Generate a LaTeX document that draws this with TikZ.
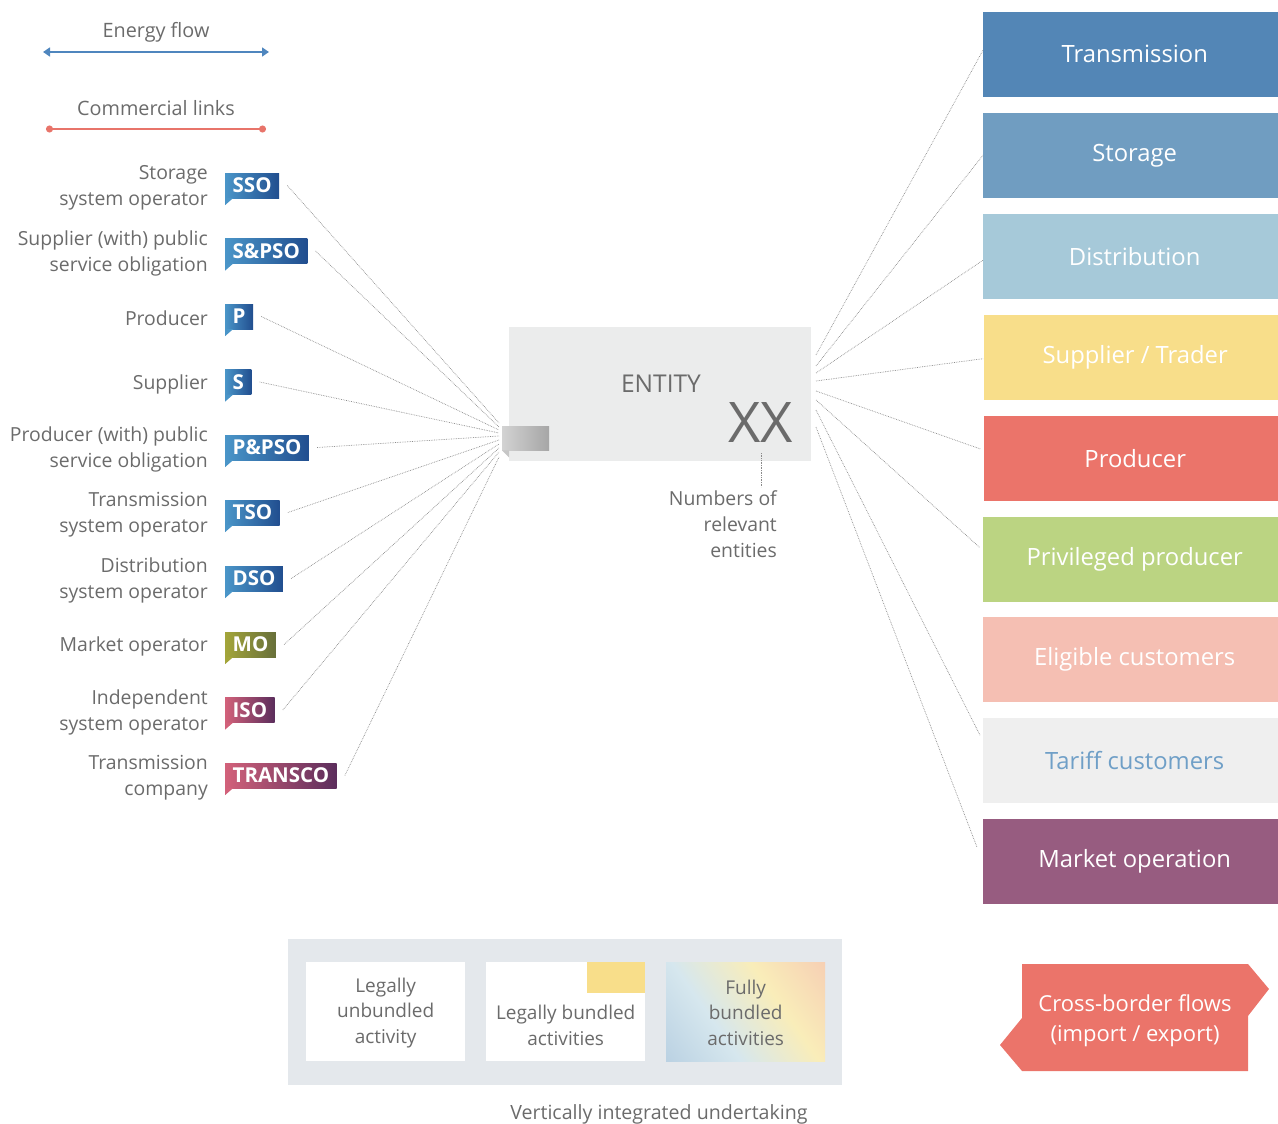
\documentclass[tikz,border=0pt]{standalone}
\usepackage{fontspec}
\setmainfont{Open Sans}
\usetikzlibrary{arrows.meta}
\definecolor{txt}{HTML}{6B6B6B}
\definecolor{eblue}{HTML}{4F86BE}
\definecolor{cred}{HTML}{E8746A}
\definecolor{cTr}{HTML}{5386B6}
\definecolor{cSt}{HTML}{709DC1}
\definecolor{cDi}{HTML}{A6C9D9}
\definecolor{cSu}{HTML}{F8DE8A}
\definecolor{cPr}{HTML}{EB746A}
\definecolor{cPp}{HTML}{BBD482}
\definecolor{cEl}{HTML}{F5BFB3}
\definecolor{cTa}{HTML}{EFEFEF}
\definecolor{cTaT}{HTML}{6F9FC7}
\definecolor{cMa}{HTML}{975C80}
\definecolor{entgray}{HTML}{EBECEC}
\definecolor{bgray}{HTML}{E4E8EC}
\definecolor{blA}{HTML}{4A95C8}
\definecolor{blB}{HTML}{214E8F}
\definecolor{grA}{HTML}{A3A53A}
\definecolor{grB}{HTML}{676F3A}
\definecolor{rdA}{HTML}{D2617A}
\definecolor{rdB}{HTML}{5B2D5C}
\definecolor{fanc}{HTML}{8A8A8A}
\definecolor{gs1}{HTML}{A8C3DB}
\definecolor{gs2}{HTML}{D6E7EE}
\definecolor{gs3}{HTML}{F9EDB9}
\definecolor{gs4}{HTML}{F5BCB0}
\pgfdeclarehorizontalshading{fullbund}{100bp}{color(0bp)=(gs1); color(38bp)=(gs2); color(62bp)=(gs3); color(100bp)=(gs4)}
\begin{document}
\begin{tikzpicture}[x=1pt,y=-1pt,
  lbl/.style={font=\fontsize{19.4}{26}\selectfont, text=txt, align=right, anchor=east, inner sep=0pt},
  ctext/.style={font=\fontsize{19.8}{26}\selectfont, text=txt, align=center, inner sep=0pt},
  btext/.style={font=\fontsize{19}{25.5}\selectfont, text=txt, align=center, inner sep=0pt},
  badge/.style={font=\bfseries\fontsize{20.5}{20}\selectfont, text=white, anchor=west,
    minimum height=25pt, inner xsep=7.5pt, inner ysep=0pt, text height=14.8pt, text depth=0pt},
  bblue/.style={badge, left color=blA, right color=blB},
  bgreen/.style={badge, left color=grA, right color=grB},
  bred/.style={badge, left color=rdA, right color=rdB},
  rbox/.style={minimum width=295pt, minimum height=85pt, anchor=north west, inner sep=0pt},
  rtext/.style={font=\fontsize{23.8}{24}\selectfont, text=white, inner sep=0pt},
  fan/.style={draw=fanc, densely dotted, line width=0.7pt},
  wbox/.style={fill=white, minimum width=159pt, minimum height=99pt, anchor=north west, inner sep=0pt}
]
\useasboundingbox (0,0) rectangle (1278,1124);

% legend
\node[ctext] (ef) at (156,32) {Energy flow};
\coordinate (ef1) at (43,52);
\coordinate (ef2) at (269,52);
\draw[line width=1.5pt, eblue, {Triangle[length=7pt,width=9pt]}-{Triangle[length=7pt,width=9pt]}] (ef1) -- (ef2);
\node[ctext] (cl) at (156,108) {Commercial links};
\coordinate (cl1) at (46,129);
\coordinate (cl2) at (266,129);
\draw[line width=1.5pt, cred, {Circle[length=7pt]}-{Circle[length=7pt]}] (cl1) -- (cl2);

% badges
\node[bblue] (sso) at (225,185.5) {SSO};
\node[bblue] (spso) at (225,251) {S\&PSO};
\node[bblue] (p) at (225,316.5) {P};
\node[bblue] (s) at (225,382) {S};
\node[bblue] (ppso) at (225,447.5) {P\&PSO};
\node[bblue] (tso) at (225,512.5) {TSO};
\node[bblue] (dso) at (225,578.5) {DSO};
\node[bgreen] (mo) at (225,644.5) {MO};
\node[bred] (iso) at (225,710) {ISO};
\node[bred] (transco) at (225,775.5) {TRANSCO};
\foreach \b/\c in {sso/blA,spso/blA,p/blA,s/blA,ppso/blA,tso/blA,dso/blA,mo/grA,iso/rdA,transco/rdA}{
  \fill[\c] (\b.south west) -- ++(0,7) -- ++(8,-7) -- cycle;
}

% labels
\node[lbl] at (208,187.5) {Storage\\system operator};
\node[lbl] at (208,253) {Supplier (with) public\\service obligation};
\node[lbl] at (208,318) {Producer};
\node[lbl] at (208,384) {Supplier};
\node[lbl] at (208,449.5) {Producer (with) public\\service obligation};
\node[lbl] at (208,514.5) {Transmission\\system operator};
\node[lbl] at (208,580.5) {Distribution\\system operator};
\node[lbl] at (208,646) {Market operator};
\node[lbl] at (208,712) {Independent\\system operator};
\node[lbl] at (208,777.5) {Transmission\\company};

% entity
\node[fill=entgray, minimum width=302pt, minimum height=134pt, anchor=north west, inner sep=0pt] (ent) at (509,327) {};
\node[font=\fontsize{24.5}{24}\selectfont, text=txt, inner sep=0pt] (entt) at (661,384) {ENTITY};
\node[font=\fontsize{56}{56}\selectfont, text=txt, inner sep=0pt] (xx) at (761,423) {XX};
\node[draw=none, left color=gray!35, right color=gray!70, minimum width=47pt, minimum height=24pt, anchor=north west, inner sep=0pt] (tab) at (502,426) {};
\fill[gray!45] (tab.south west) -- ++(7,7) -- ++(0,-7) -- cycle;
\coordinate (xd1) at (761,453);
\coordinate (xd2) at (761,487);
\draw[fan] (xd1) -- (xd2);
\node[lbl, anchor=north east] (num) at (777,490) {Numbers of\\relevant\\entities};

% left fan
\foreach \b/\yy in {sso/423,spso/427,p/430,s/433,ppso/436,tso/440,dso/444,mo/448,iso/452,transco/457}{
  \coordinate (L\b) at (499,\yy);
  \draw[fan] ([xshift=8pt]\b.east) -- (L\b);
}

% right boxes
\node[rbox, fill=cTr] (tr) at (983,12) {};
\node[rbox, fill=cSt] (st) at (983,113) {};
\node[rbox, fill=cDi] (di) at (983,214) {};
\node[rbox, fill=cSu, minimum width=294pt] (su) at (984,315) {};
\node[rbox, fill=cPr, minimum width=294pt] (pr) at (984,416) {};
\node[rbox, fill=cPp] (pp) at (983,517) {};
\node[rbox, fill=cEl] (el) at (983,617) {};
\node[rbox, fill=cTa] (ta) at (983,718) {};
\node[rbox, fill=cMa] (ma) at (983,819) {};
\node[rtext] (trt) at ([xshift=4pt, yshift=1pt]tr.center) {Transmission};
\node[rtext] (stt) at ([xshift=4pt]st.center) {Storage};
\node[rtext] (dit) at ([xshift=4pt]di.center) {Distribution};
\node[rtext] (sut) at ([xshift=4pt]su.center) {Supplier / Trader};
\node[rtext] (prt) at ([xshift=4pt]pr.center) {Producer};
\node[rtext] (ppt) at ([xshift=4pt]pp.center) {Privileged producer};
\node[rtext] (elt) at ([xshift=4pt]el.center) {Eligible customers};
\node[rtext, text=cTaT] (tat) at ([xshift=4pt]ta.center) {Tariff customers};
\node[rtext] (mat) at ([xshift=4pt]ma.center) {Market operation};

% right fan
\foreach \b/\ys/\dy/\dx in {tr/355/4.5/0, st/366/0.5/0, di/373/-3.5/0, su/381/-1/1, pr/391/9.5/3, pp/400/12/3, ta/410/25.5/3, ma/427/14.5/6}{
  \coordinate (R\b) at (816,\ys);
  \draw[fan] (R\b) -- ([yshift=\dy pt, xshift=-\dx pt]\b.west);
}

% bottom legend
\node[fill=bgray, minimum width=554pt, minimum height=146pt, anchor=north west, inner sep=0pt] (vi) at (288,939) {};
\node[wbox] (w1) at (306,962) {};
\node[wbox] (w2) at (486,962) {};
\node[wbox, shading=fullbund, shading angle=35] (w3) at (666,962) {};
\fill[cSu] (587,962) rectangle (w2.north east |- 0,993);
\node[btext] at ([yshift=-1pt]w1.center) {Legally\\unbundled\\activity};
\node[btext] at ([yshift=-13.5pt]w2.center) {Legally bundled\\activities};
\node[btext] at ([yshift=-1pt]w3.center) {Fully\\bundled\\activities};
\node[font=\fontsize{19.6}{18}\selectfont, text=txt, inner sep=0pt, anchor=north] (vit) at (659,1104) {Vertically integrated undertaking};

% cross-border
\fill[cPr] (1022,964) -- (1248,964) -- (1269,989) -- (1248,1016) -- (1248,1071) -- (1022,1071) -- (1000,1045) -- (1022,1018) -- cycle;
\node[font=\fontsize{22}{30}\selectfont, text=white, align=center, inner sep=0pt] (cb) at (1135,1021) {Cross-border flows\\(import / export)};
\end{tikzpicture}
\end{document}
